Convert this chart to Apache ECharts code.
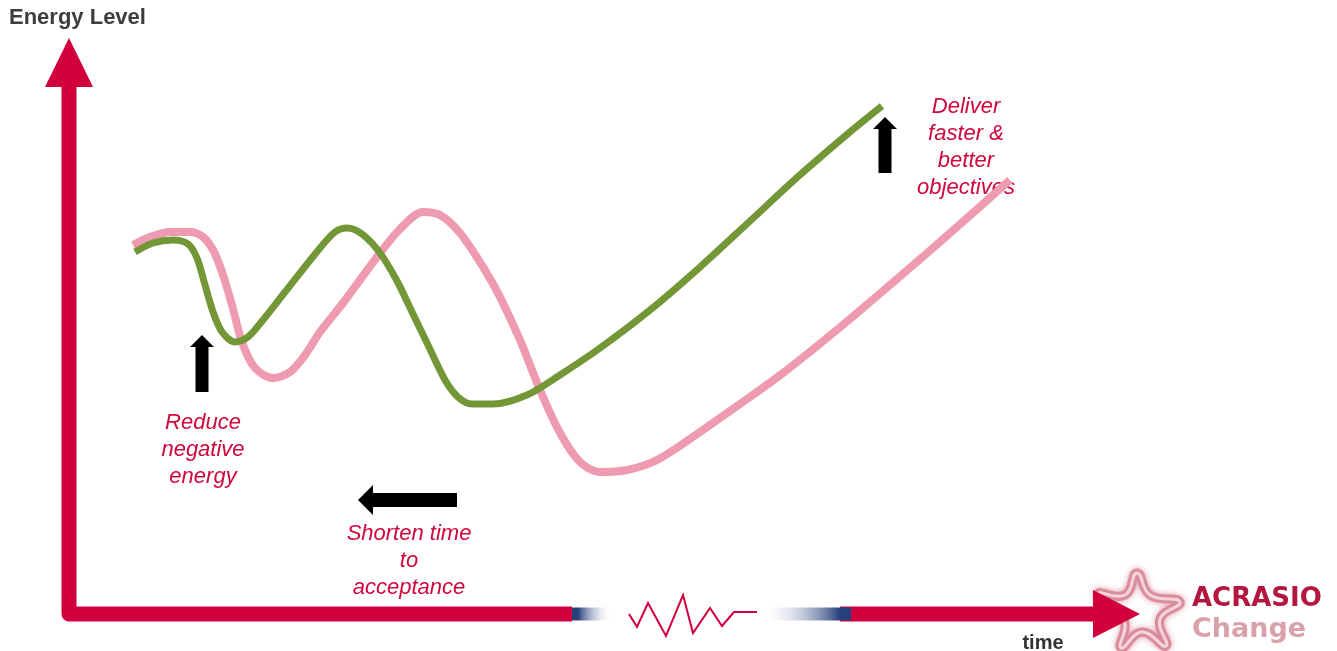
<!DOCTYPE html>
<html>
<head>
<meta charset="utf-8">
<title>Energy Level over time</title>
<script src="https://cdn.jsdelivr.net/npm/echarts@6/dist/echarts.min.js"></script>
<style>
  html, body { margin: 0; padding: 0; background: #ffffff; }
  #chart { width: 1337px; height: 651px; }
</style>
</head>
<body>
<div id="chart"></div>
<script>
// Typical change curve (pink): time 0-100, energy 0-100
const unsupportedTime = [5.98, 7.56, 9.43, 11.30, 12.51, 13.45, 14.29, 15.22, 16.15, 17.37, 19.05, 20.63, 22.04, 23.44, 25.58, 28.76, 30.91, 33.05, 34.64, 36.51, 38.84, 40.24, 42.11, 43.98, 45.85, 47.71, 49.58, 52.10, 54.90, 58.92, 62.65, 66.67, 71.34, 76.00, 80.67, 85.34, 87.86];
const unsupportedEnergy = [64.06, 65.45, 66.32, 66.32, 65.45, 63.19, 59.38, 53.65, 47.22, 42.71, 40.97, 42.01, 44.97, 48.96, 53.99, 61.98, 66.84, 69.79, 69.27, 66.15, 59.72, 55.03, 47.57, 38.89, 31.42, 26.39, 24.65, 25.00, 26.74, 31.60, 36.46, 41.84, 48.78, 56.08, 63.54, 71.18, 75.35];

// Supported change curve (green)
const supportedTime = [6.16, 7.84, 9.71, 11.11, 11.95, 12.70, 13.45, 14.29, 15.50, 16.71, 18.11, 20.17, 23.44, 24.84, 25.96, 27.36, 29.04, 30.63, 32.03, 33.52, 35.11, 36.32, 37.63, 39.59, 42.76, 45.84, 49.58, 54.25, 58.92, 63.59, 68.25, 72.92, 75.91];
const supportedEnergy = [62.85, 64.41, 64.93, 64.24, 61.81, 57.12, 52.43, 48.96, 47.22, 48.09, 51.04, 55.90, 63.54, 66.32, 67.01, 65.97, 62.67, 57.81, 52.43, 46.70, 40.63, 37.67, 36.46, 36.46, 38.02, 41.49, 46.18, 52.78, 60.24, 68.23, 76.22, 83.68, 88.19];

const axisTitleY = 'Energy Level';
const axisTitleX = 'time';
const notes = {
  deliver: 'Deliver\nfaster &\nbetter\nobjectives',
  reduce: 'Reduce\nnegative\nenergy',
  shorten: 'Shorten time\nto\nacceptance'
};

const RED = '#D1003D';
const NAVY = '#26407C';
const TEXT_RED = '#D0063E';

function pairs(xs, ys) { return xs.map((x, i) => [x, ys[i]]); }

const chart = echarts.init(document.getElementById('chart'), null, { renderer: 'canvas' });

// plot area: origin at the corner of the red axes
const G = { left: 69, top: 38, width: 1071, height: 576 };
const ox = G.left, oy = G.top + G.height;

const graphics = [];

// y axis + first part of x axis, joined with a rounded corner
graphics.push({
  type: 'polyline', z: 1,
  shape: { points: [[ox, 86], [ox, oy], [572, oy]] },
  style: { stroke: RED, lineWidth: 15, lineJoin: 'round', lineCap: 'butt', fill: null }
});
graphics.push({
  type: 'polygon', z: 1,
  shape: { points: [[ox, 38], [ox - 24, 87], [ox + 24, 87]] },
  style: { fill: RED }
});
// broken-axis fade-outs
graphics.push({
  type: 'rect', z: 2,
  shape: { x: 572, y: oy - 6.5, width: 40, height: 13 },
  style: { fill: new echarts.graphic.LinearGradient(0, 0, 1, 0, [
    { offset: 0, color: NAVY }, { offset: 0.15, color: NAVY },
    { offset: 1, color: 'rgba(255,255,255,0)' }]) }
});
graphics.push({
  type: 'polyline', z: 2,
  shape: { points: [[629, 614], [637, 627], [648, 603], [666, 636], [683, 595], [693, 633], [710, 608], [722, 626], [734, 612], [757, 612]] },
  style: { stroke: RED, lineWidth: 2, fill: null, lineJoin: 'miter' }
});
graphics.push({
  type: 'rect', z: 2,
  shape: { x: 760, y: oy - 6.5, width: 80, height: 13 },
  style: { fill: new echarts.graphic.LinearGradient(0, 0, 1, 0, [
    { offset: 0, color: 'rgba(255,255,255,0)' }, { offset: 1, color: NAVY }]) }
});
graphics.push({
  type: 'line', z: 1,
  shape: { x1: 840, y1: oy, x2: 1096, y2: oy },
  style: { stroke: RED, lineWidth: 15 }
});
graphics.push({
  type: 'rect', z: 2,
  shape: { x: 840, y: oy - 6.5, width: 11, height: 13 },
  style: { fill: NAVY }
});

// logo figure
const figurePts = [[1137, 573], [1150, 595], [1180, 602], [1160, 619], [1166, 646],
                   [1142, 632], [1121, 648], [1124, 620], [1098, 594], [1125, 595]];
graphics.push({
  type: 'polygon', z: 3,
  shape: { smooth: 0.5, points: figurePts },
  style: { fill: '#ffffff', stroke: '#D98C9C', lineWidth: 9, shadowBlur: 6, shadowColor: 'rgba(200,80,110,0.55)' }
});
graphics.push({
  type: 'polygon', z: 3,
  shape: { smooth: 0.5, points: figurePts },
  style: { fill: null, stroke: '#F5D3DA', lineWidth: 3 }
});
// x-axis arrowhead
graphics.push({
  type: 'polygon', z: 4,
  shape: { points: [[1093, 590], [1140, oy], [1093, 638]] },
  style: { fill: RED }
});
graphics.push({
  type: 'text', z: 4,
  style: { text: 'ACRASIO', x: 1192, y: 599, textAlign: 'left', textVerticalAlign: 'middle',
           fill: '#B3173F', font: 'bold 26px "DejaVu Sans"' }
});
graphics.push({
  type: 'text', z: 4,
  style: { text: 'Change', x: 1192, y: 630, textAlign: 'left', textVerticalAlign: 'middle',
           fill: '#D9A1AA', font: 'bold 27px "DejaVu Sans"' }
});

// axis titles
graphics.push({
  type: 'text', z: 4,
  style: { text: axisTitleY, x: 9, y: 18, textAlign: 'left', textVerticalAlign: 'middle',
           fill: '#3d3d3d', font: 'bold 22px "Liberation Sans", Arial, sans-serif' }
});
graphics.push({
  type: 'text', z: 4,
  style: { text: axisTitleX, x: 1043, y: 643, textAlign: 'center', textVerticalAlign: 'middle',
           fill: '#333333', font: 'bold 20px "Liberation Sans", Arial, sans-serif' }
});

// annotation arrows
function upArrow(cx, tip, headBase, bottom) {
  return {
    type: 'polygon', z: 4,
    shape: { points: [[cx, tip], [cx + 12, headBase], [cx + 6.5, headBase], [cx + 6.5, bottom],
                      [cx - 6.5, bottom], [cx - 6.5, headBase], [cx - 12, headBase]] },
    style: { fill: '#000000' }
  };
}
graphics.push(upArrow(202, 335, 347, 392));
graphics.push(upArrow(885, 117, 129, 173));
graphics.push({
  type: 'polygon', z: 4,
  shape: { points: [[358, 500], [373, 485], [373, 493], [457, 493], [457, 507], [373, 507], [373, 515]] },
  style: { fill: '#000000' }
});

// annotation texts
function note(text, x, y) {
  return {
    type: 'text', z: 4,
    style: { text: text, x: x, y: y, textAlign: 'center', textVerticalAlign: 'middle',
             fill: TEXT_RED, font: 'italic 22px "Liberation Sans", Arial, sans-serif', lineHeight: 27 }
  };
}
graphics.push(note(notes.deliver, 966, 147));
graphics.push(note(notes.reduce, 203, 450));
graphics.push(note(notes.shorten, 409, 561));

chart.setOption({
  animation: false,
  backgroundColor: '#ffffff',
  grid: { left: G.left, top: G.top, width: G.width, height: G.height, containLabel: false },
  xAxis: { type: 'value', min: 0, max: 100, show: false },
  yAxis: { type: 'value', min: 0, max: 100, show: false },
  graphic: graphics,
  series: [
    {
      name: 'Unsupported change',
      type: 'line',
      data: pairs(unsupportedTime, unsupportedEnergy),
      smooth: 0.3,
      showSymbol: false,
      z: 5,
      lineStyle: { color: '#EE9AB1', width: 8, cap: 'butt' }
    },
    {
      name: 'Supported change',
      type: 'line',
      data: pairs(supportedTime, supportedEnergy),
      smooth: 0.3,
      showSymbol: false,
      z: 6,
      lineStyle: { color: '#739636', width: 7, cap: 'butt' }
    }
  ]
});
</script>
</body>
</html>
